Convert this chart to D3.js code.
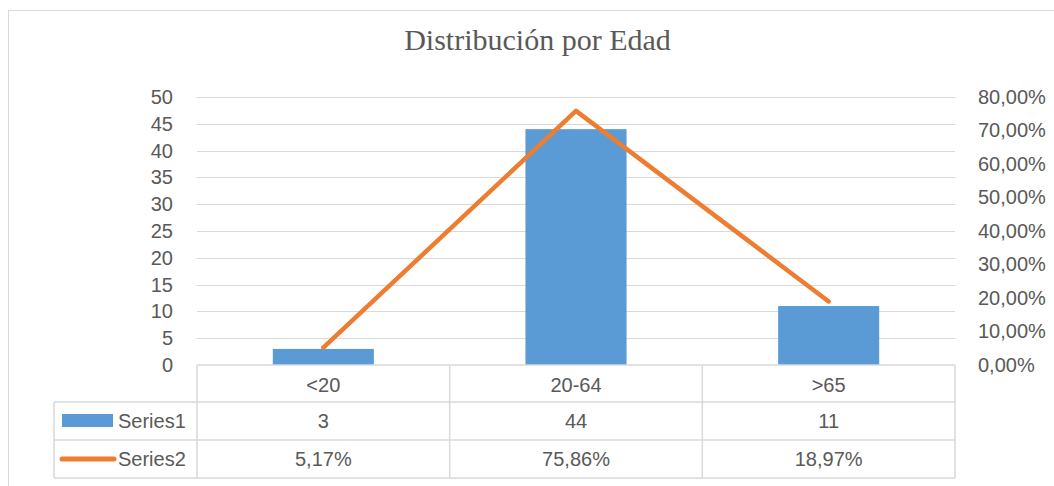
<!DOCTYPE html>
<html lang="es">
<head>
    <meta charset="UTF-8">
    <title>Distribución por Edad</title>
    <style>
      body {
          margin: 0;
          padding: 0;
          background-color: #fff;
      }
      svg text {
          font-family: 'Liberation Sans', Arial, sans-serif;
          fill: #595959;
      }
      .title {
          font-family: 'Liberation Serif', 'Times New Roman', serif;
      }
    </style>
</head>
<body>
    <div id="chart"></div>
    <script src="https://d3js.org/d3.v7.min.js"></script>
    <script>
        // chart data
        const categories = ["<20", "20-64", ">65"];
        const series1 = [3, 44, 11];
        const series2 = [0.0517, 0.7586, 0.1897];
        const seriesNames = ["Series1", "Series2"];
        const leftTicks = d3.range(0, 51, 5);
        const rightTicks = d3.range(0, 0.81, 0.1);

        const width = 1054;
        const height = 486;

        const blue = "#5B9BD5";
        const orange = "#ED7D31";
        const gridColor = "#d9d9d9";

        // spanish style number format (comma as decimal)
        const locale = d3.formatLocale({decimal: ",", thousands: ".", grouping: [3], currency: ["", "€"]});
        const pct = locale.format(".2%");

        const svg = d3.select("#chart").append("svg")
            .attr("width", width)
            .attr("height", height);

        // outer chart border (runs off the right / bottom edge)
        svg.append("rect")
            .attr("x", 8.5).attr("y", 10.5)
            .attr("width", 1080).attr("height", 500)
            .attr("fill", "#fff")
            .attr("stroke", gridColor);

        const plotLeft = 197, plotRight = 955, plotTop = 97, plotBottom = 365;

        const x = d3.scaleBand().domain(categories).range([plotLeft, plotRight]).padding(0);
        const yL = d3.scaleLinear().domain([0, 50]).range([plotBottom, plotTop]);
        const yR = d3.scaleLinear().domain([0, 0.8]).range([plotBottom, plotTop]);

        svg.append("text")
            .attr("class", "title")
            .attr("x", 537.5).attr("y", 50)
            .attr("text-anchor", "middle")
            .attr("font-size", "30px")
            .text("Distribución por Edad");

        // gridlines
        svg.append("g")
            .selectAll("line")
            .data(leftTicks.filter(d => d > 0))
            .join("line")
            .attr("x1", plotLeft).attr("x2", plotRight)
            .attr("y1", d => Math.round(yL(d)) + 0.5)
            .attr("y2", d => Math.round(yL(d)) + 0.5)
            .attr("stroke", gridColor)
            .attr("stroke-width", 1);

        // left axis
        const axL = svg.append("g")
            .attr("transform", `translate(${plotLeft},0)`)
            .call(d3.axisLeft(yL).tickValues(leftTicks).tickSize(0).tickPadding(24));
        axL.select(".domain").remove();
        axL.selectAll("text").attr("font-size", "20px").attr("fill", "#595959");

        // right axis
        const axR = svg.append("g")
            .attr("transform", `translate(${plotRight},0)`)
            .call(d3.axisRight(yR).tickValues(rightTicks).tickSize(0).tickPadding(23).tickFormat(pct));
        axR.select(".domain").remove();
        axR.selectAll("text").attr("font-size", "20px").attr("fill", "#595959");

        // bars
        const barW = x.bandwidth() * 0.4;
        svg.append("g")
            .selectAll("rect")
            .data(series1)
            .join("rect")
            .attr("x", (d, i) => x(categories[i]) + (x.bandwidth() - barW) / 2)
            .attr("y", d => yL(d))
            .attr("width", barW)
            .attr("height", d => yL(0) - yL(d))
            .attr("fill", blue);

        // line (secondary axis)
        const line = d3.line()
            .x((d, i) => x(categories[i]) + x.bandwidth() / 2)
            .y(d => yR(d));
        svg.append("path")
            .datum(series2)
            .attr("d", line)
            .attr("fill", "none")
            .attr("stroke", orange)
            .attr("stroke-width", 4.5)
            .attr("stroke-linecap", "round")
            .attr("stroke-linejoin", "round");

        // data table
        const rowY = [365, 402, 440, 478];
        const tableLeft = 54;
        const table = svg.append("g")
            .attr("stroke", gridColor)
            .attr("stroke-width", 1.5)
            .attr("fill", "none");

        // horizontal lines
        table.append("line").attr("x1", plotLeft).attr("x2", plotRight).attr("y1", rowY[0]).attr("y2", rowY[0]);
        rowY.slice(1).forEach(yy => {
            table.append("line").attr("x1", tableLeft).attr("x2", plotRight).attr("y1", yy).attr("y2", yy);
        });
        // vertical lines
        const cols = categories.map(c => x(c)).concat([plotRight]);
        cols.forEach(xx => {
            table.append("line").attr("x1", xx).attr("x2", xx).attr("y1", rowY[0]).attr("y2", rowY[3]);
        });
        table.append("line").attr("x1", tableLeft).attr("x2", tableLeft).attr("y1", rowY[1]).attr("y2", rowY[3]);

        const cellText = (txt, cx, cy, anchor) => svg.append("text")
            .attr("x", cx).attr("y", cy)
            .attr("dy", "0.35em")
            .attr("text-anchor", anchor || "middle")
            .attr("font-size", "20px")
            .text(txt);

        categories.forEach((c, i) => {
            const cx = x(c) + x.bandwidth() / 2;
            cellText(c, cx, (rowY[0] + rowY[1]) / 2 + 1);
            cellText(series1[i], cx, (rowY[1] + rowY[2]) / 2);
            cellText(pct(series2[i]), cx, (rowY[2] + rowY[3]) / 2);
        });

        // legend keys in table
        svg.append("rect")
            .attr("x", 62).attr("y", 414)
            .attr("width", 51).attr("height", 13)
            .attr("fill", blue);
        svg.append("line")
            .attr("x1", 62).attr("x2", 114)
            .attr("y1", 459).attr("y2", 459)
            .attr("stroke", orange)
            .attr("stroke-width", 5)
            .attr("stroke-linecap", "round");
        cellText(seriesNames[0], 118, (rowY[1] + rowY[2]) / 2, "start");
        cellText(seriesNames[1], 118, (rowY[2] + rowY[3]) / 2, "start");
    </script>
</body>
</html>
